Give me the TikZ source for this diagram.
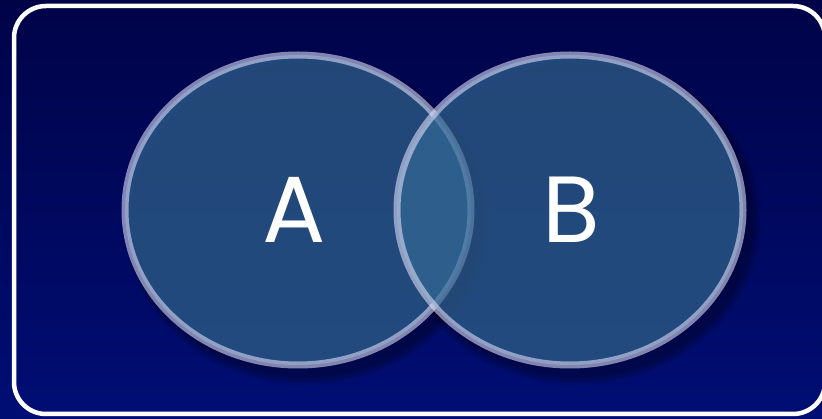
\documentclass[tikz,border=0pt]{standalone}
\usepackage{fontspec}
\newfontfamily\labelfont{Poppins}
\usetikzlibrary{shapes.geometric}
\definecolor{bgtop}{RGB}{0,3,72}
\definecolor{bgbot}{RGB}{0,14,116}
\definecolor{setfill}{RGB}{51,106,152}
\definecolor{setline}{RGB}{225,225,250}
\tikzset{
  setshape/.style={ellipse, minimum width=346pt, minimum height=310pt, inner sep=0pt,
    fill=setfill, fill opacity=0.68, draw=setline, draw opacity=0.58, line width=7pt},
  setshadow/.style={ellipse, inner sep=0pt, fill=black, fill opacity=0.07},
  setlabel/.style={text=white, font=\labelfont\fontsize{94}{94}\selectfont, inner sep=0pt, anchor=base},
  frame/.style={draw=white, line width=4.5pt, rounded corners=32pt}
}
\begin{document}
\begin{tikzpicture}[x=1pt, y=-1pt]
\useasboundingbox (0,0) rectangle (822,419);
\shade[top color=bgtop, bottom color=bgbot] (0,0) rectangle (822,419);
% soft shadows
\foreach \d in {0,4,8,12,16}{
  \node[setshadow, minimum width={350pt+\d pt}, minimum height={314pt+\d pt}] at (306,220) {};
  \node[setshadow, minimum width={350pt+\d pt}, minimum height={314pt+\d pt}] at (578,220) {};
}
\node[setshape] (A) at (298,210) {};
\node[setshape] (B) at (570,210) {};
\node[setlabel] (la) at (294,243) {A};
\node[setlabel] (lb) at (571,243) {B};
\begin{scope}
\clip (0,0) rectangle (822,419);
\draw[frame] (14,6) rectangle (825,414);
\end{scope}
\end{tikzpicture}
\end{document}
